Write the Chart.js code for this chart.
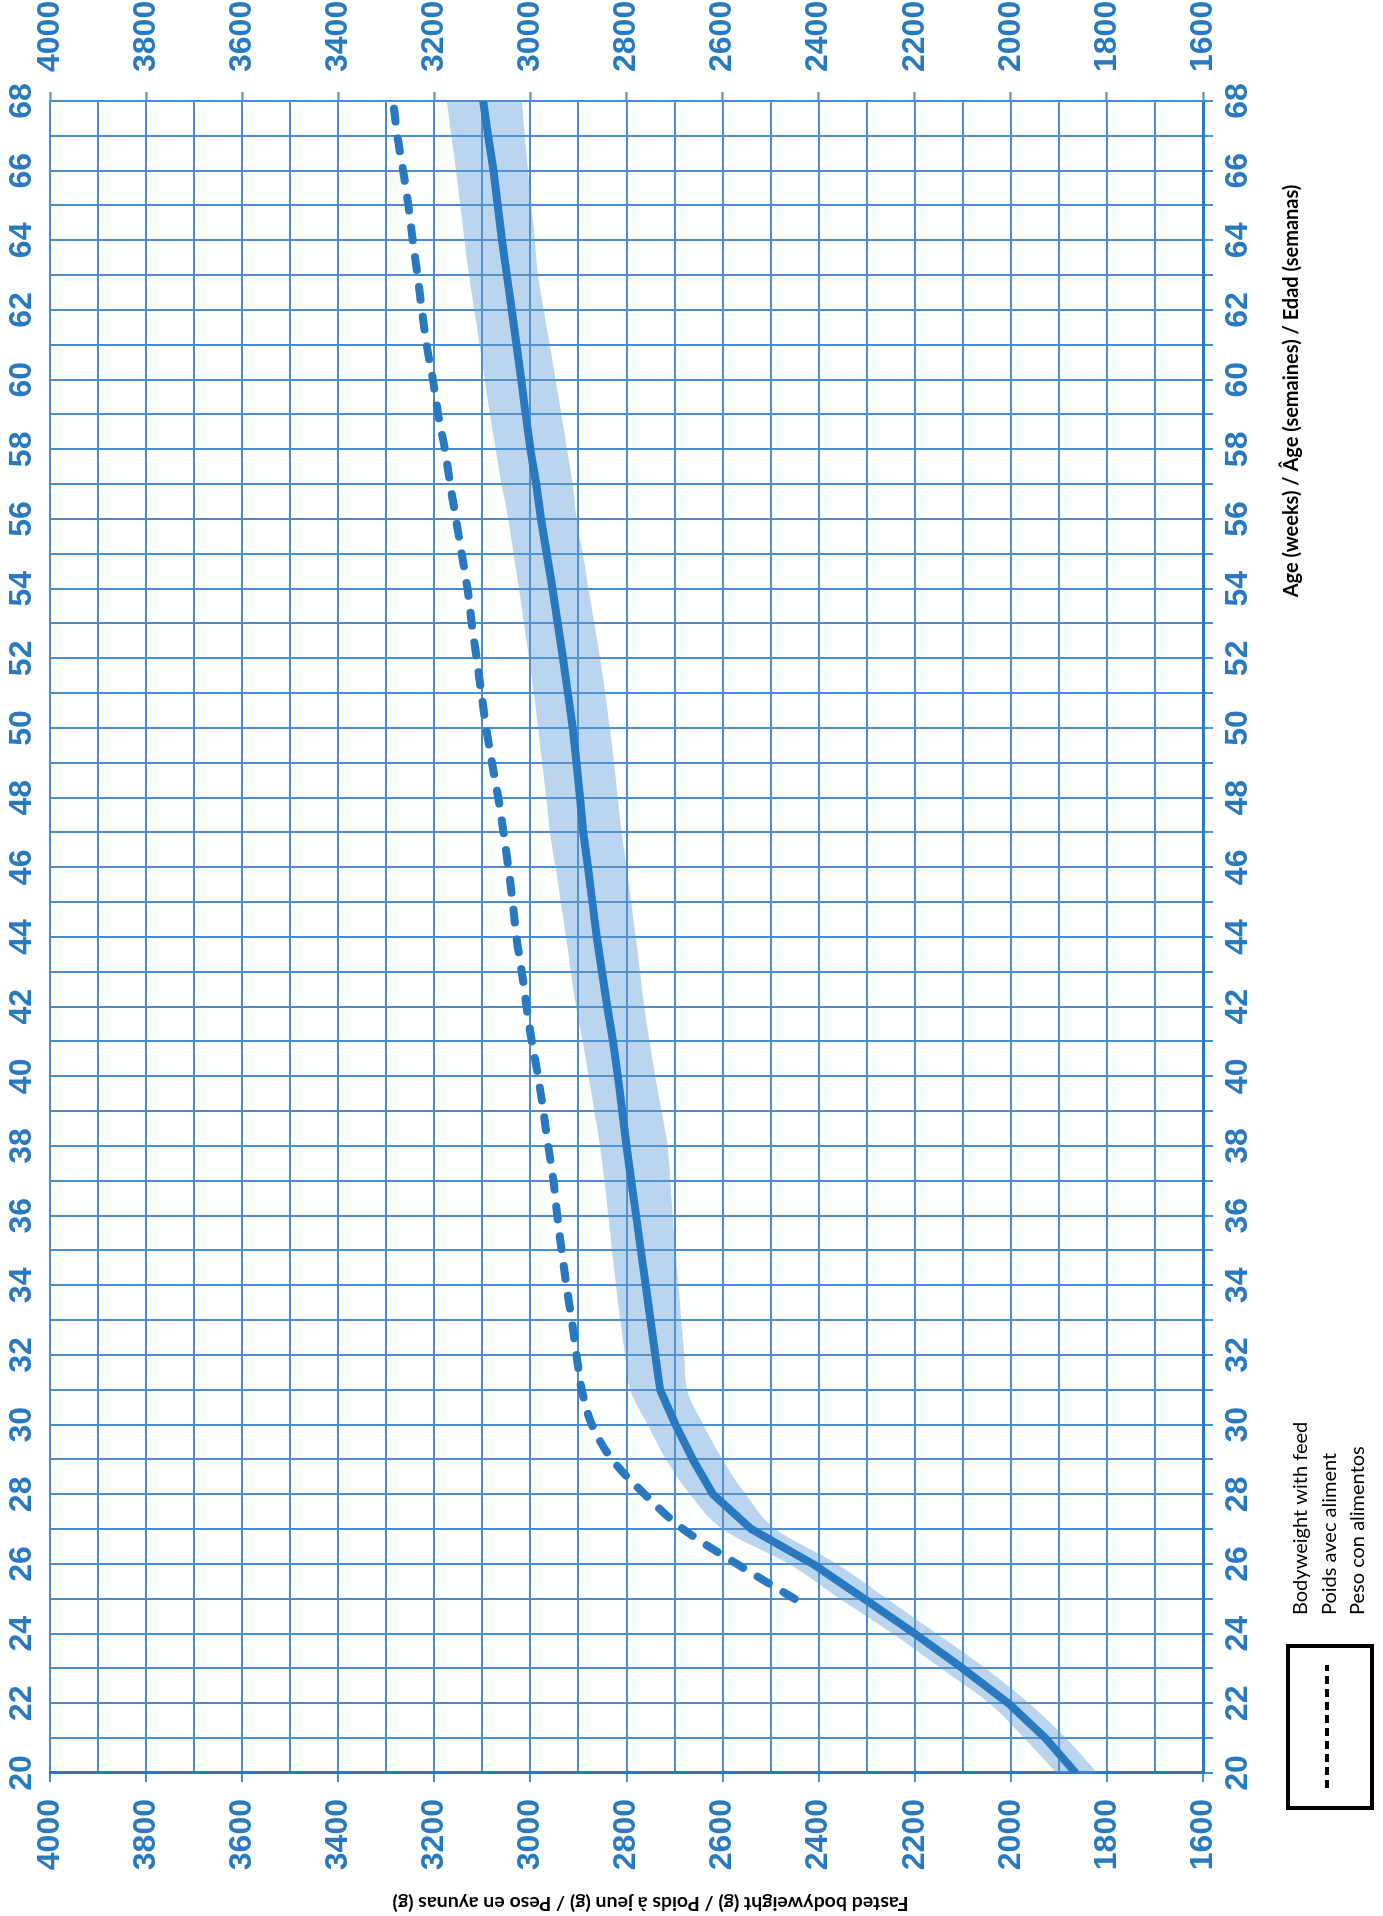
<!DOCTYPE html>
<html>
<head>
<meta charset="utf-8">
<title>Fasted bodyweight</title>
<script src="https://cdn.jsdelivr.net/npm/chart.js@4.4.1/dist/chart.umd.min.js"></script>
<style>
  html, body { margin: 0; padding: 0; background: #fff; overflow: hidden; }
  #page { position: relative; width: 1383px; height: 1916px; overflow: hidden; }
  /* the chart is drawn upright, then turned a quarter left like the print */
  #turn { position: absolute; left: 0; top: 0; width: 1916px; height: 1383px;
          transform-origin: 0 0; transform: translate(0, 1916px) rotate(-90deg); }
</style>
</head>
<body>
<div id="page"><div id="turn"><canvas id="weightChart" width="1916" height="1383"></canvas></div></div>
<script>
// Age in weeks
const ageWeeks = [20, 21, 22, 23, 24, 25, 26, 27, 28, 29, 30, 31, 32, 33, 34, 35, 36, 37, 38, 39, 40, 41, 42, 43, 44,
    45, 46, 47, 48, 49, 50, 51, 52, 53, 54, 55, 56, 57, 58, 59, 60, 61, 62, 63, 64, 65, 66, 67, 68];

// Fasted bodyweight (g), solid line
const fastedWeight = [1865, 1928, 2005, 2100, 2200, 2305, 2412, 2540, 2620, 2662, 2698, 2730, 2740, 2750, 2760,
    2770, 2780, 2790, 2800, 2809, 2818, 2828, 2840, 2851, 2862, 2871, 2880, 2890, 2897, 2904, 2912, 2922, 2932,
    2943, 2954, 2966, 2978, 2988, 3000, 3010, 3019, 3029, 3039, 3049, 3059, 3068, 3077, 3088, 3098];

// Light band round the fasted bodyweight
const bandLow = [1820, 1885, 1962, 2052, 2154, 2258, 2362, 2490, 2552, 2600, 2640, 2674, 2680, 2686, 2692, 2698,
    2704, 2709, 2714, 2727, 2740, 2752, 2763, 2772, 2781, 2790, 2800, 2810, 2818, 2826, 2835, 2844, 2855, 2867,
    2879, 2891, 2904, 2912, 2924, 2936, 2948, 2960, 2972, 2984, 2991, 2998, 3005, 3012, 3018];
const bandHigh = [1905, 1972, 2045, 2145, 2246, 2356, 2462, 2600, 2668, 2718, 2756, 2792, 2803, 2813, 2822, 2830,
    2838, 2846, 2855, 2867, 2879, 2891, 2905, 2916, 2926, 2937, 2948, 2959, 2967, 2976, 2984, 2993, 3003, 3014,
    3024, 3035, 3046, 3060, 3072, 3084, 3095, 3106, 3117, 3128, 3137, 3146, 3155, 3165, 3174];

// Bodyweight with feed (g), dashed line
const feedAge = [25, 26, 27, 28, 29, 30, 31, 32, 33, 34, 35, 36, 37, 38, 39, 40, 41, 42, 43, 44, 45, 46, 47, 48,
    49, 50, 51, 52, 53, 54, 55, 56, 57, 58, 59, 60, 61, 62, 63, 64, 65, 66, 67, 68];
const feedWeight = [2450, 2570, 2682, 2762, 2830, 2872, 2893, 2904, 2914, 2925, 2935, 2944, 2952, 2963, 2973,
    2984, 2997, 3008, 3018, 3029, 3037, 3046, 3056, 3067, 3080, 3092, 3102, 3112, 3122, 3131, 3143, 3155, 3167,
    3178, 3192, 3203, 3216, 3226, 3235, 3245, 3254, 3265, 3277, 3286];

const ageRange = [20, 68];
const weightRange = [1600, 4000];

const weightTitle = 'Fasted bodyweight (g) / Poids à jeun (g) / Peso en ayunas (g)';
const ageTitle = 'Age (weeks) / Âge (semaines) / Edad (semanas)';
const legendLines = ['Bodyweight with feed', 'Poids avec aliment', 'Peso con alimentos'];

const blue = 'rgb(40, 121, 192)';
const gridBlue = 'rgb(74, 141, 206)';
const bandColor = 'rgba(91, 155, 213, 0.42)';
const tickFont = { family: "'Liberation Sans Narrow', 'Liberation Sans', Arial, sans-serif", size: 32, weight: 'bold' };
const textFont = "Lato, 'Open Sans', sans-serif";

function points(xs, ys) {
    return xs.map(function (x, i) { return { x: x, y: ys[i] }; });
}

// tick marks only on the labelled (200 g) lines
function majorTick(ctx) {
    return ctx.tick && ctx.tick.value % 200 === 0 ? gridBlue : 'rgba(0,0,0,0)';
}

function ageLabel(value) { return value % 2 === 0 ? value : ''; }
function weightLabel(value) { return value % 200 === 0 ? value : ''; }

// both axis titles (they sit off-centre in the print) and the boxed legend
const extrasPlugin = {
    id: 'extras',
    afterDraw: function (chart) {
        const ctx = chart.ctx;
        const area = chart.chartArea;
        ctx.save();

        ctx.fillStyle = '#000';
        ctx.textAlign = 'center';
        ctx.textBaseline = 'middle';
        ctx.font = 'bold 20px ' + textFont;
        ctx.fillText(ageTitle, area.right - 290, area.bottom + 89);

        ctx.save();
        ctx.translate(area.left - 130, (area.top + area.bottom) / 2 + 24);
        ctx.rotate(-Math.PI / 2);
        ctx.font = 'bold 19.5px ' + textFont;
        ctx.fillText(weightTitle, 0, 0);
        ctx.restore();

        // legend box with the dashed sample
        const boxLeft = area.left - 35, boxTop = area.bottom + 85, boxW = 162, boxH = 84;
        ctx.strokeStyle = '#000';
        ctx.lineWidth = 4;
        ctx.strokeRect(boxLeft, boxTop, boxW, boxH);
        ctx.beginPath();
        ctx.setLineDash([8, 5]);
        ctx.lineWidth = 4;
        ctx.moveTo(boxLeft + 20, boxTop + 39);
        ctx.lineTo(boxLeft + boxW - 19, boxTop + 39);
        ctx.stroke();
        ctx.setLineDash([]);

        ctx.font = '20px ' + textFont;
        ctx.textAlign = 'left';
        legendLines.forEach(function (line, i) {
            ctx.fillText(line, boxLeft + boxW + 31, boxTop + 13 + i * 28.5);
        });
        ctx.restore();
    }
};

const ctxWeight = document.getElementById('weightChart').getContext('2d');
new Chart(ctxWeight, {
    type: 'line',
    data: {
        datasets: [
            {
                label: legendLines[0],
                data: points(feedAge, feedWeight),
                borderColor: blue,
                borderWidth: 8,
                borderDash: [13, 17],
                borderCapStyle: 'round',
                cubicInterpolationMode: 'monotone',
                pointRadius: 0,
                fill: false
            },
            {
                label: weightTitle,
                data: points(ageWeeks, fastedWeight),
                borderColor: blue,
                borderWidth: 8,
                borderJoinStyle: 'round',
                tension: 0,
                pointRadius: 0,
                fill: false
            },
            {
                label: 'low',
                data: points(ageWeeks, bandLow),
                borderColor: 'rgba(0,0,0,0)',
                borderWidth: 0,
                cubicInterpolationMode: 'monotone',
                pointRadius: 0,
                fill: false
            },
            {
                label: 'high',
                data: points(ageWeeks, bandHigh),
                borderColor: 'rgba(0,0,0,0)',
                borderWidth: 0,
                backgroundColor: bandColor,
                cubicInterpolationMode: 'monotone',
                pointRadius: 0,
                fill: '-1'
            }
        ]
    },
    options: {
        responsive: false,
        animation: false,
        layout: { padding: 0 },
        scales: {
            x: {
                type: 'linear',
                position: 'bottom',
                min: ageRange[0],
                max: ageRange[1],
                afterFit: function (scale) { scale.height = 180; },
                grid: { color: gridBlue, lineWidth: 2, tickLength: 10, tickColor: gridBlue, tickWidth: 2 },
                border: { color: blue, width: 3 },
                ticks: { stepSize: 1, autoSkip: false, maxRotation: 0, padding: 6, color: blue, font: tickFont, callback: ageLabel }
            },
            xTop: {
                type: 'linear',
                position: 'top',
                min: ageRange[0],
                max: ageRange[1],
                afterFit: function (scale) { scale.height = 50; },
                grid: { drawOnChartArea: false, drawTicks: false },
                border: { color: gridBlue, width: 2 },
                ticks: { stepSize: 1, autoSkip: false, maxRotation: 0, padding: 9, color: blue, font: tickFont, callback: ageLabel }
            },
            y: {
                type: 'linear',
                position: 'left',
                min: weightRange[0],
                max: weightRange[1],
                afterFit: function (scale) { scale.width = 143; },
                grid: { color: gridBlue, lineWidth: 2, tickLength: 9, tickColor: majorTick, tickWidth: 2 },
                border: { color: blue, width: 3 },
                ticks: { stepSize: 100, autoSkip: false, padding: 17, color: blue, font: tickFont, callback: weightLabel }
            },
            yRight: {
                type: 'linear',
                position: 'right',
                min: weightRange[0],
                max: weightRange[1],
                afterFit: function (scale) { scale.width = 101; },
                grid: { drawOnChartArea: false, tickLength: 9, tickColor: majorTick, tickWidth: 2 },
                border: { color: gridBlue, width: 2 },
                ticks: { stepSize: 100, autoSkip: false, padding: 20, color: blue, font: tickFont, callback: weightLabel }
            }
        },
        plugins: {
            legend: { display: false },
            tooltip: { enabled: false }
        }
    },
    plugins: [extrasPlugin]
});
</script>
</body>
</html>
